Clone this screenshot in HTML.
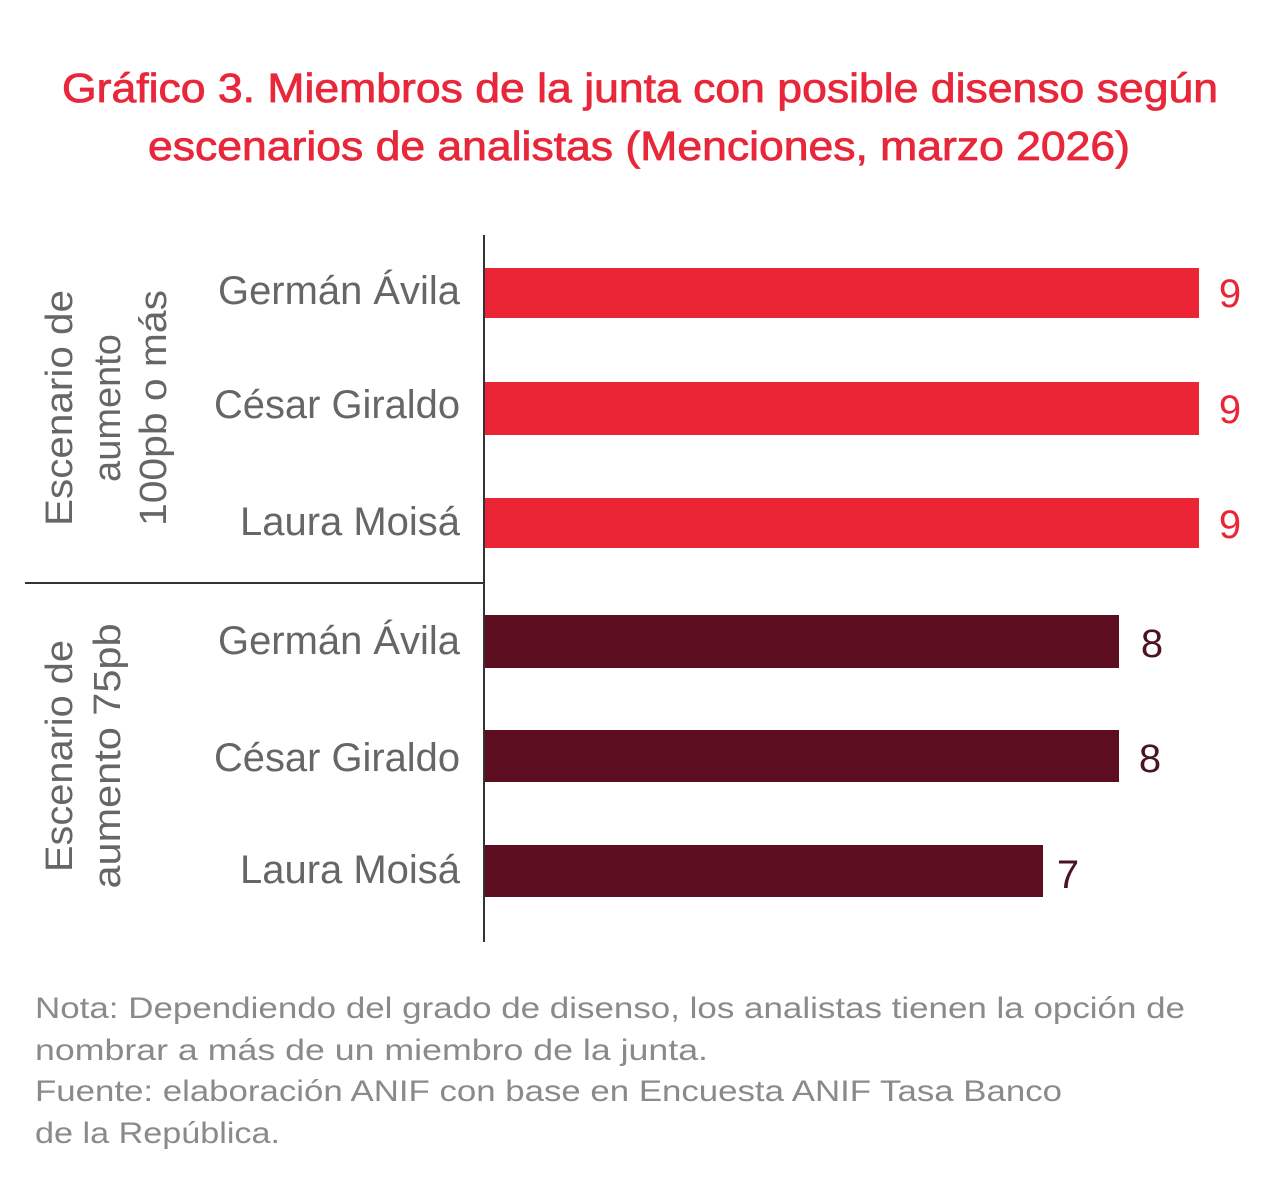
<!DOCTYPE html>
<html><head><meta charset="utf-8"><style>html,body{margin:0;padding:0;background:#fff;}svg{display:block}</style></head>
<body>
<svg width="1280" height="1183" viewBox="0 0 1280 1183" xmlns="http://www.w3.org/2000/svg" font-family="Liberation Sans, sans-serif">
<rect width="1280" height="1183" fill="#fff"/>
<g fill="#e8273a" stroke="#e8273a" stroke-width="0.8" font-size="41">
<text x="62" y="102" textLength="1156" lengthAdjust="spacingAndGlyphs">Gráfico 3. Miembros de la junta con posible disenso según</text>
<text x="148" y="160" textLength="982" lengthAdjust="spacingAndGlyphs">escenarios de analistas (Menciones, marzo 2026)</text>
</g>
<line x1="484" y1="235" x2="484" y2="942" stroke="#333" stroke-width="2"/>
<line x1="25" y1="583" x2="484" y2="583" stroke="#333" stroke-width="2"/>
<g fill="#ec2536">
<rect x="485" y="268" width="714" height="50"/>
<rect x="485" y="382" width="714" height="53"/>
<rect x="485" y="498" width="714" height="50"/>
</g>
<g fill="#5c0d1f">
<rect x="485" y="615" width="634" height="53"/>
<rect x="485" y="730" width="634" height="52"/>
<rect x="485" y="845" width="558" height="52"/>
</g>
<g font-size="40" fill="#ec2536" text-anchor="middle">
<text x="1230" y="307">9</text><text x="1230" y="423">9</text><text x="1230" y="538">9</text>
</g>
<g font-size="40" fill="#4a1520" text-anchor="middle">
<text x="1152" y="657">8</text><text x="1150" y="772">8</text><text x="1068" y="888">7</text>
</g>
<g font-size="40" fill="#666">
<text x="218" y="304" textLength="242" lengthAdjust="spacingAndGlyphs">Germán Ávila</text>
<text x="214" y="418" textLength="246" lengthAdjust="spacingAndGlyphs">César Giraldo</text>
<text x="240" y="535" textLength="220" lengthAdjust="spacingAndGlyphs">Laura Moisá</text>
<text x="218" y="654" textLength="242" lengthAdjust="spacingAndGlyphs">Germán Ávila</text>
<text x="214" y="771" textLength="246" lengthAdjust="spacingAndGlyphs">César Giraldo</text>
<text x="240" y="883" textLength="220" lengthAdjust="spacingAndGlyphs">Laura Moisá</text>
</g>
<g font-size="38" fill="#666" text-anchor="middle">
<text transform="translate(72,408) rotate(-90)" textLength="236" lengthAdjust="spacingAndGlyphs">Escenario de</text>
<text transform="translate(120,408) rotate(-90)">aumento</text>
<text transform="translate(166,408) rotate(-90)" textLength="236" lengthAdjust="spacingAndGlyphs">100pb o más</text>
<text transform="translate(72,756) rotate(-90)" textLength="232" lengthAdjust="spacingAndGlyphs">Escenario de</text>
<text transform="translate(120,756) rotate(-90)" textLength="265" lengthAdjust="spacingAndGlyphs">aumento 75pb</text>
</g>
<g font-size="30" fill="#8a8a8a">
<text x="35" y="1018" textLength="1150" lengthAdjust="spacingAndGlyphs">Nota: Dependiendo del grado de disenso, los analistas tienen la opción de</text>
<text x="35" y="1060" textLength="673" lengthAdjust="spacingAndGlyphs">nombrar  a más de un miembro de la junta.</text>
<text x="35" y="1101" textLength="1027" lengthAdjust="spacingAndGlyphs">Fuente: elaboración ANIF con base en Encuesta ANIF Tasa Banco</text>
<text x="35" y="1143" textLength="245" lengthAdjust="spacingAndGlyphs">de la República.</text>
</g>
</svg>
</body></html>
